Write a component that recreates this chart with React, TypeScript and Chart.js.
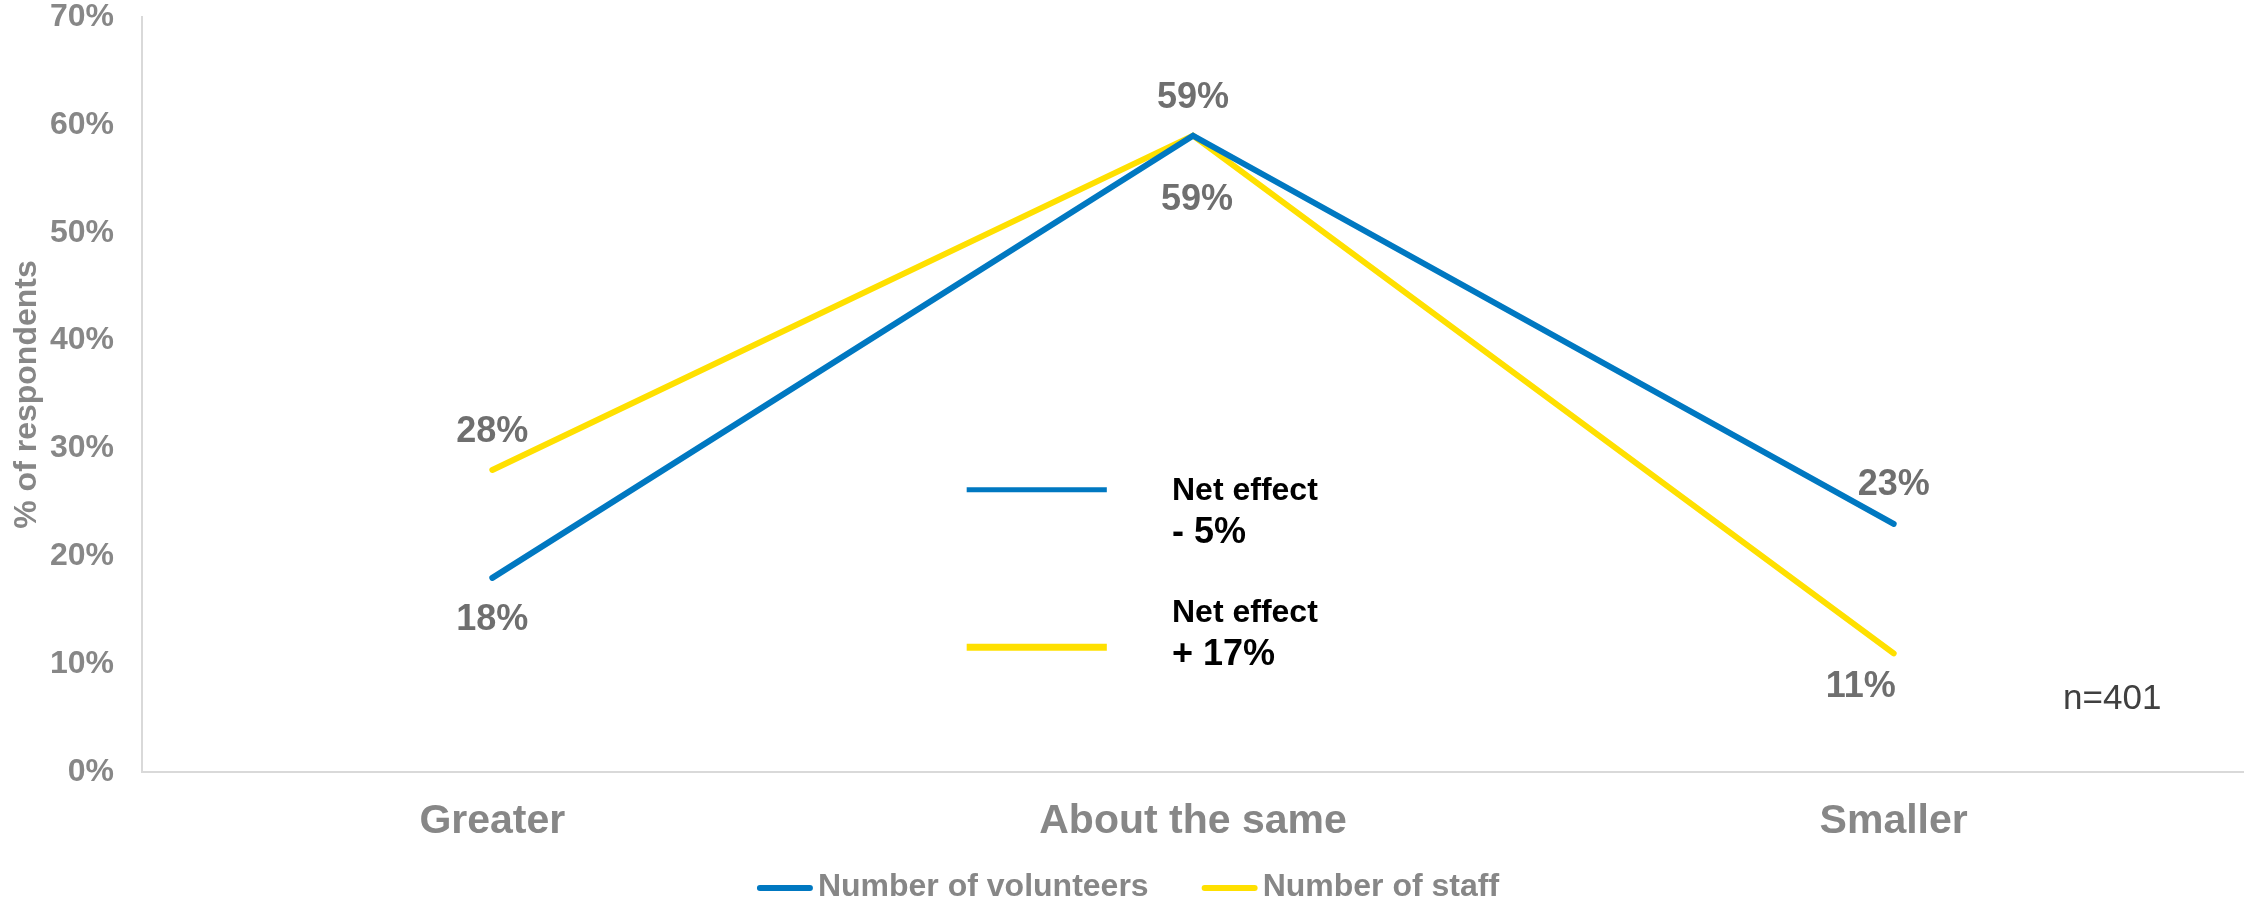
import React, { useEffect, useRef } from "react";
import { Chart, registerables } from "chart.js";

Chart.register(...registerables);

// ---- data ----
const categories = ["Greater", "About the same", "Smaller"];
const volunteers = [18, 59, 23];
const staff = [28, 59, 11];
const seriesNames = ["Number of volunteers", "Number of staff"];
const yMin = 0;
const yMax = 70;
const yStep = 10;
const netEffectTitle = "Net effect";
const netEffectValues = ["- 5%", "+ 17%"];
const sampleNote = "n=401";

// ---- styles ----
const FONT = '"Liberation Sans", Arial, Helvetica, sans-serif';
const BLUE = "#0078C1";
const YELLOW = "#FFE000";
const AXIS_GRAY = "#d9d9d9";
const TICK_GRAY = "#878787";
const LABEL_GRAY = "#6f6f6f";

// data-label pixel offsets (per series, per point)
const labelDx = [
  [0, 4, 0],
  [0, 0, -33],
];
const labelDy = [
  [42, 64, -39],
  [-38, -38, 34],
];

// annotation placement (category-index / value units)
const annoLineX = [0.677, 0.877];
const annoLineY = [26.16, 11.57];
const annoTextX = 0.97;
const annoTitleY = [25.2, 13.9];
const annoValueY = [21.2, 9.9];
const noteX = 2.312;
const noteY = 6.76;

const dataLabelsPlugin = {
  id: "dataLabels",
  afterDatasetsDraw(chart: any) {
    const ctx = chart.ctx;
    ctx.save();
    ctx.font = `bold 36px ${FONT}`;
    ctx.fillStyle = LABEL_GRAY;
    ctx.textAlign = "center";
    ctx.textBaseline = "middle";
    chart.data.datasets.forEach((ds: any, di: number) => {
      const meta = chart.getDatasetMeta(di);
      meta.data.forEach((el: any, i: number) => {
        ctx.fillText(`${ds.data[i]}%`, el.x + labelDx[di][i], el.y + labelDy[di][i]);
      });
    });
    ctx.restore();
  },
};

const annotationsPlugin = {
  id: "annotations",
  afterDraw(chart: any) {
    const ctx = chart.ctx;
    const xs = chart.scales.x;
    const ys = chart.scales.y;
    ctx.save();
    const widths = [5, 7];
    chart.data.datasets.forEach((ds: any, i: number) => {
      const y = ys.getPixelForValue(annoLineY[i]);
      ctx.strokeStyle = ds.borderColor;
      ctx.lineWidth = widths[i];
      ctx.lineCap = "butt";
      ctx.beginPath();
      ctx.moveTo(xs.getPixelForValue(annoLineX[0]), y);
      ctx.lineTo(xs.getPixelForValue(annoLineX[1]), y);
      ctx.stroke();
      ctx.fillStyle = "#000000";
      ctx.textAlign = "left";
      ctx.textBaseline = "alphabetic";
      ctx.font = `bold 32px ${FONT}`;
      const tx = xs.getPixelForValue(annoTextX);
      ctx.fillText(netEffectTitle, tx, ys.getPixelForValue(annoTitleY[i]));
      ctx.font = `bold 36px ${FONT}`;
      ctx.fillText(netEffectValues[i], tx, ys.getPixelForValue(annoValueY[i]));
    });
    // sample note
    ctx.font = `35px ${FONT}`;
    ctx.fillStyle = "#404040";
    ctx.textAlign = "center";
    ctx.textBaseline = "middle";
    ctx.fillText(sampleNote, xs.getPixelForValue(noteX), ys.getPixelForValue(noteY));

    // custom legend
    ctx.font = `bold 32px ${FONT}`;
    const lineW = 56;
    const gap = 5;
    const itemGap = 53;
    const items = chart.data.datasets.map((ds: any) => ({
      color: ds.borderColor,
      text: ds.label,
      w: ctx.measureText(ds.label).width,
    }));
    const total = items.reduce((s: number, it: any) => s + lineW + gap + it.w, 0) + itemGap * (items.length - 1);
    let x = chart.width / 2 - total / 2 + 6;
    const ly = 887;
    items.forEach((it: any) => {
      ctx.strokeStyle = it.color;
      ctx.lineWidth = 6;
      ctx.lineCap = "round";
      ctx.beginPath();
      ctx.moveTo(x + 3, ly + 1);
      ctx.lineTo(x + lineW - 3, ly + 1);
      ctx.stroke();
      ctx.fillStyle = TICK_GRAY;
      ctx.textAlign = "left";
      ctx.textBaseline = "middle";
      ctx.fillText(it.text, x + lineW + gap, ly);
      x += lineW + gap + it.w + itemGap;
    });
    ctx.restore();
  },
};

export default function App() {
  const canvasRef = useRef<HTMLCanvasElement | null>(null);

  useEffect(() => {
    if (!canvasRef.current) return;
    const chart = new Chart(canvasRef.current, {
      type: "line",
      data: {
        labels: categories,
        datasets: [
          {
            label: seriesNames[0],
            data: volunteers,
            borderColor: BLUE,
            backgroundColor: BLUE,
            borderWidth: 6,
            pointRadius: 0,
            tension: 0,
            borderCapStyle: "round",
            borderJoinStyle: "miter",
          },
          {
            label: seriesNames[1],
            data: staff,
            borderColor: YELLOW,
            backgroundColor: YELLOW,
            borderWidth: 6,
            pointRadius: 0,
            tension: 0,
            borderCapStyle: "round",
            borderJoinStyle: "miter",
          },
        ],
      },
      options: {
        responsive: false,
        animation: false,
        layout: { padding: { top: 0, left: 0, right: 0, bottom: 0 } },
        plugins: {
          legend: { display: false },
          tooltip: { enabled: false },
        },
        scales: {
          x: {
            offset: true,
            grid: { display: false, drawTicks: false },
            border: { display: true, color: AXIS_GRAY, width: 2 },
            ticks: {
              color: TICK_GRAY,
              font: { family: FONT, size: 41, weight: "bold" },
              padding: 25,
              maxRotation: 0,
            },
            afterFit: (scale: any) => {
              scale.height = 131;
            },
          },
          y: {
            min: yMin,
            max: yMax,
            grid: { display: false, drawTicks: false },
            border: { display: true, color: AXIS_GRAY, width: 2 },
            ticks: {
              stepSize: yStep,
              color: TICK_GRAY,
              font: { family: FONT, size: 32, weight: "bold" },
              padding: 28,
              callback: (v: any) => `${v}%`,
            },
            title: {
              display: true,
              text: "% of respondents",
              color: TICK_GRAY,
              font: { family: FONT, size: 32, weight: "bold" },
              padding: { top: 8, bottom: 0 },
            },
            afterFit: (scale: any) => {
              scale.width = 142;
              scale.paddingTop = 17;
              scale.paddingBottom = 16;
            },
          },
        },
      } as any,
      plugins: [dataLabelsPlugin, annotationsPlugin],
    });
    return () => chart.destroy();
  }, []);

  return (
    <div style={{ position: "absolute", left: 0, top: 0, width: 2244, height: 903, background: "#fff" }}>
      <canvas ref={canvasRef} width={2244} height={903} style={{ display: "block" }} />
    </div>
  );
}
